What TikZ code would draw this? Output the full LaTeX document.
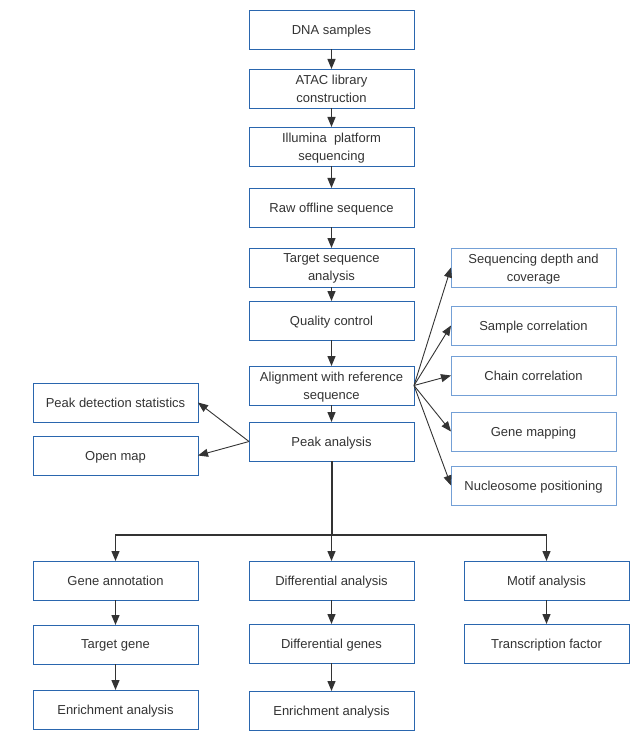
\documentclass[tikz,border=0pt]{standalone}
\usepackage{fontspec}
\setmainfont{Liberation Sans}
\usepackage{xcolor}
\usetikzlibrary{arrows.meta,positioning}
\definecolor{boxblue}{HTML}{2A66AE}
\definecolor{lightblue}{HTML}{74A0D6}
\definecolor{inkgray}{HTML}{333333}
\begin{document}
\begin{tikzpicture}[
    x=1pt, y=1pt,
    base/.style={draw, align=center, minimum width=165pt, minimum height=39pt, outer sep=0pt,
        inner sep=1pt, text depth=-7pt, font=\fontsize{13}{18}\selectfont, text=inkgray, line width=0.9pt},
    stepbox/.style={base, draw=boxblue},
    sidebox/.style={base, draw=lightblue},
    arrow/.style={-{Triangle[length=10pt, width=8pt]}, line width=1.3pt, draw=inkgray},
    fanarrow/.style={-{Triangle[length=10pt, width=8pt]}, line width=0.9pt, draw=inkgray}
]
\useasboundingbox (0,0) rectangle (643,-746);
% main column
\node[stepbox] (dna) at (331.5,-29.5) {DNA samples};
\node[stepbox, below=20pt of dna] (atac) {ATAC library\\construction};
\node[stepbox, below=19pt of atac] (illumina) {Illumina\ \ platform\\sequencing};
\node[stepbox, below=22pt of illumina] (raw) {Raw offline sequence};
\node[stepbox, below=21pt of raw] (target) {Target sequence\\analysis};
\node[stepbox, below=14pt of target] (quality) {Quality control};
\node[stepbox, below=26pt of quality] (align) {Alignment with reference\\sequence};
\node[stepbox, below=17pt of align] (peak) {Peak analysis};
% right column
\node[sidebox, right=37pt of target] (depth) {Sequencing depth and\\coverage};
\node[sidebox, below=19pt of depth] (samplecorr) {Sample correlation};
\node[sidebox, below=11pt of samplecorr] (chaincorr) {Chain correlation};
\node[sidebox, below=17pt of chaincorr] (genemap) {Gene mapping};
\node[sidebox, below=15pt of genemap] (nucleosome) {Nucleosome positioning};
% left column
\node[stepbox, left=51pt of peak.north west, anchor=south east] (peakstat) {Peak detection statistics};
\node[stepbox, below=14pt of peakstat] (openmap) {Open map};
% lower branches
\node[stepbox, below=100pt of peak] (diffanalysis) {Differential analysis};
\node[stepbox, left=51pt of diffanalysis] (geneanno) {Gene annotation};
\node[stepbox, right=50pt of diffanalysis] (motif) {Motif analysis};
\node[stepbox, below=25pt of geneanno] (targetgene) {Target gene};
\node[stepbox, below=26pt of targetgene] (enrichleft) {Enrichment analysis};
\node[stepbox, below=24pt of diffanalysis] (diffgenes) {Differential genes};
\node[stepbox, below=28pt of diffgenes] (enrichmid) {Enrichment analysis};
\node[stepbox, below=24pt of motif] (tfactor) {Transcription factor};
\coordinate (split) at ([yshift=-74pt]peak.south);
% main flow
\draw[arrow] (dna) -- (atac);
\draw[arrow] (atac) -- (illumina);
\draw[arrow] (illumina) -- (raw);
\draw[arrow] (raw) -- (target);
\draw[arrow] (target) -- (quality);
\draw[arrow] (quality) -- (align);
\draw[arrow] (align) -- (peak);
% fan to the right
\draw[fanarrow] (align.east) -- (depth.west);
\draw[fanarrow] (align.east) -- (samplecorr.west);
\draw[fanarrow] (align.east) -- (chaincorr.west);
\draw[fanarrow] (align.east) -- (genemap.west);
\draw[fanarrow] (align.east) -- (nucleosome.west);
% fan to the left
\draw[fanarrow] (peak.west) -- (peakstat.east);
\draw[fanarrow] (peak.west) -- (openmap.east);
% branches
\draw[line width=2pt, draw=inkgray] (peak.south) -- (split);
\draw[arrow] (split) -| (geneanno.north);
\draw[arrow] (split) -- (diffanalysis.north);
\draw[arrow] (split) -| (motif.north);
\draw[arrow] (geneanno) -- (targetgene);
\draw[arrow] (targetgene) -- (enrichleft);
\draw[arrow] (diffanalysis) -- (diffgenes);
\draw[arrow] (diffgenes) -- (enrichmid);
\draw[arrow] (motif) -- (tfactor);
\end{tikzpicture}
\end{document}
